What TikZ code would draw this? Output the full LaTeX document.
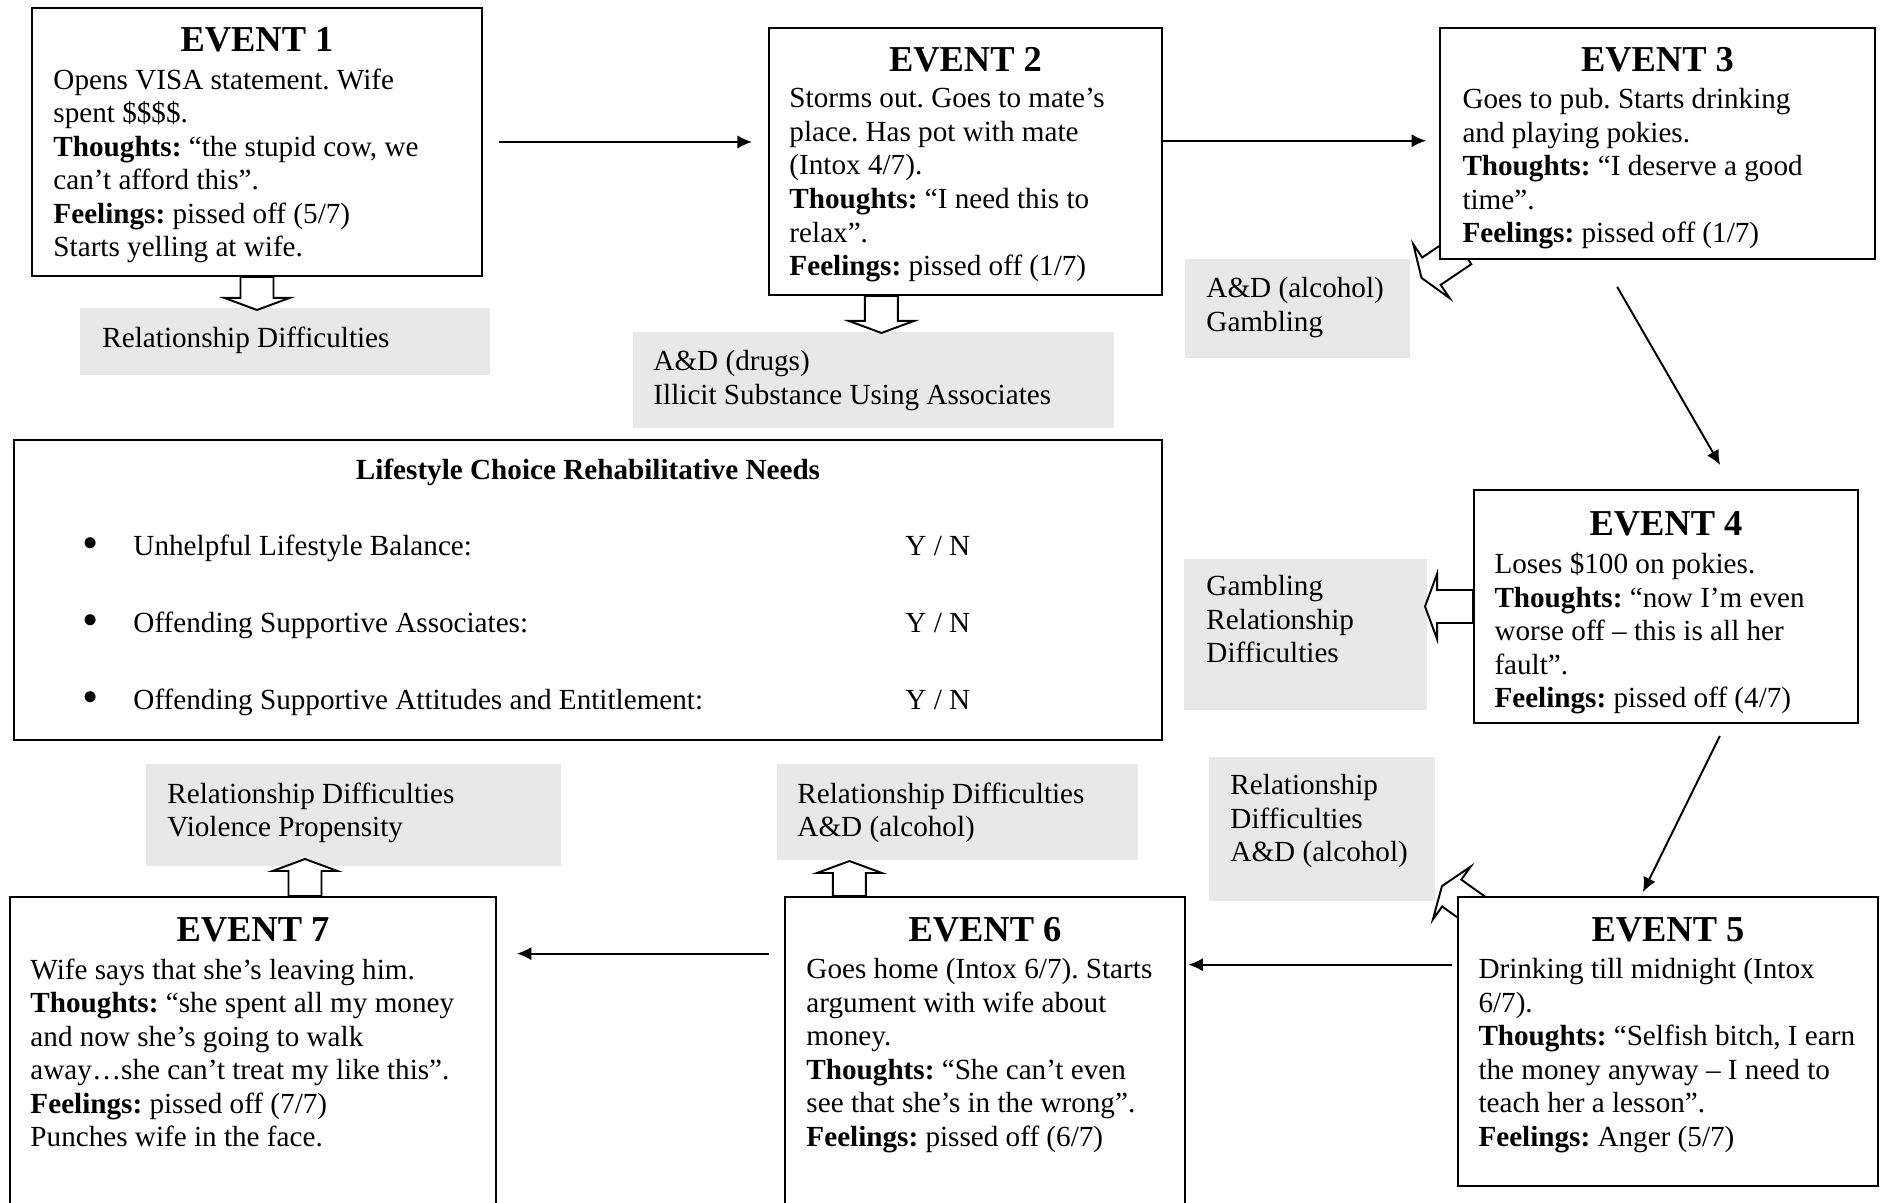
\documentclass[tikz,border=0pt]{standalone}
\usepackage{fontspec}
\setmainfont{Liberation Serif}
\frenchspacing
\usetikzlibrary{arrows.meta,fit,backgrounds}
\definecolor{shade}{gray}{0.91}
\def\BA#1#2#3{\draw[bigarrow,shift={#1},rotate=#2] (0,-16.5) -- (#3-12,-16.5) -- (#3-12,-32.5) -- (#3,0) -- (#3-12,32.5) -- (#3-12,16.5) -- (0,16.5) -- cycle;}
\begin{document}
\begin{tikzpicture}[x=0.4115pt,y=-0.4115pt,
  evbox/.style={draw,line width=0.8pt,fill=white,inner sep=0pt},
  evtitle/.style={font=\fontsize{15}{18}\selectfont\bfseries,inner sep=0pt},
  evtext/.style={font=\fontsize{12}{13.8}\selectfont,align=left,inner sep=0pt,anchor=north west},
  needbox/.style={fill=shade,inner sep=0pt},
  flow/.style={-{Latex[length=6pt,width=5.5pt]},line width=0.8pt},
  bigarrow/.style={draw,fill=white,line width=0.8pt}]
\useasboundingbox (0,0) rectangle (1880,1203);
% the seven events
\node[evbox,fit={(32,8) (482,276)}] (ev1) {};
\node[evtitle] (t1) at (257,40) {EVENT 1};
\node[evtext] (b1) at (53,68) {Opens VISA statement. Wife\\spent \$\$\$\$.\\\textbf{Thoughts:} “the stupid cow, we\\can’t afford this”.\\\textbf{Feelings:} pissed off (5/7)\\Starts yelling at wife.};
\node[evbox,fit={(769,28) (1162,295)}] (ev2) {};
\node[evtitle] (t2) at (965.5,60) {EVENT 2};
\node[evtext] (b2) at (789,88) {Storms out. Goes to mate’s\\place. Has pot with mate\\(Intox 4/7).\\\textbf{Thoughts:} “I need this to\\relax”.\\\textbf{Feelings:} pissed off (1/7)};
\node[evbox,fit={(1440,28) (1875,259)}] (ev3) {};
\node[evtitle] (t3) at (1657.5,60) {EVENT 3};
\node[evtext] (b3) at (1462,88) {Goes to pub. Starts drinking\\and playing pokies.\\\textbf{Thoughts:} “I deserve a good\\time”.\\\textbf{Feelings:} pissed off (1/7)};
\node[evbox,fit={(1474,490) (1858,723)}] (ev4) {};
\node[evtitle] (t4) at (1666,524) {EVENT 4};
\node[evtext] (b4) at (1494,552) {Loses \$100 on pokies.\\\textbf{Thoughts:} “now I’m even\\worse off – this is all her\\fault”.\\\textbf{Feelings:} pissed off (4/7)};
\node[evbox,fit={(1458,897) (1878,1186)}] (ev5) {};
\node[evtitle] (t5) at (1668,930) {EVENT 5};
\node[evtext] (b5) at (1478,958) {Drinking till midnight (Intox\\6/7).\\\textbf{Thoughts:} “Selfish bitch, I earn\\the money anyway – I need to\\teach her a lesson”.\\\textbf{Feelings:} Anger (5/7)};
\node[evbox,fit={(785,897) (1185,1215)}] (ev6) {};
\node[evtitle] (t6) at (985,930) {EVENT 6};
\node[evtext] (b6) at (806,958) {Goes home (Intox 6/7). Starts\\argument with wife about\\money.\\\textbf{Thoughts:} “She can’t even\\see that she’s in the wrong”.\\\textbf{Feelings:} pissed off (6/7)};
\node[evbox,fit={(10,897) (496,1215)}] (ev7) {};
\node[evtitle] (t7) at (253,930) {EVENT 7};
\node[evtext] (b7) at (30,958) {Wife says that she’s leaving him.\\\textbf{Thoughts:} “she spent all my money\\and now she’s going to walk\\away…she can’t treat my like this”.\\\textbf{Feelings:} pissed off (7/7)\\Punches wife in the face.};
% needs in the middle
\node[draw,line width=0.8pt,inner sep=0pt,fit={(14,440) (1162,740)}] (life) {};
\node[evtext,font=\fontsize{12}{13.8}\selectfont\bfseries,anchor=base] (lifet) at (588,480) {Lifestyle Choice Rehabilitative Needs};
\foreach \y/\need [count=\i] in {556/Unhelpful Lifestyle Balance:,632.6/Offending Supportive Associates:,709.2/Offending Supportive Attitudes and Entitlement:} {
  \node[evtext,font=\fontsize{19}{19}\selectfont,anchor=base] (dot\i) at (91,\y+3) {\textbullet};
  \node[evtext,anchor=base west] (need\i) at (133,\y) {\need};
  \node[evtext,anchor=base west] (yn\i) at (905,\y) {Y / N};
}
% grey boxes and block arrows
\begin{pgfonlayer}{background}
\node[needbox,fit={(80,308) (490,375)}] (g1) {};
\node[needbox,fit={(633,332) (1114,428)}] (g2) {};
\node[needbox,fit={(1185,259) (1410,358)}] (g3) {};
\node[needbox,fit={(1184,559) (1427,710)}] (g4) {};
\node[needbox,fit={(1209,757) (1435,901)}] (g5) {};
\node[needbox,fit={(777,764) (1138,860)}] (g6) {};
\node[needbox,fit={(146,764) (561,866)}] (g7) {};
\BA{(ev1.south)}{-90}{33}
\BA{([xshift=-34.6pt]ev2.south)}{-90}{37}
\BA{([xshift=9.5pt,yshift=3.9pt]ev3.south west)}{214}{49}
\BA{(ev4.west)}{180}{48}
\BA{([xshift=8.2pt,yshift=-6.2pt]ev5.north west)}{144.5}{43}
\BA{([xshift=-55.8pt]ev6.north)}{90}{35}
\BA{([xshift=21.4pt]ev7.north)}{90}{37}
\end{pgfonlayer}
\node[evtext] (n1) at (102,326) {Relationship Difficulties};
\node[evtext] (n2) at (653,350) {A\&D (drugs)\\Illicit Substance Using Associates};
\node[evtext] (n3) at (1206,277) {A\&D (alcohol)\\Gambling};
\node[evtext] (n4) at (1206,575) {Gambling\\Relationship\\Difficulties};
\node[evtext] (n5) at (1230,774) {Relationship\\Difficulties\\A\&D (alcohol)};
\node[evtext] (n6) at (797,782) {Relationship Difficulties\\A\&D (alcohol)};
\node[evtext] (n7) at (167,782) {Relationship Difficulties\\Violence Propensity};
% chain of events
\draw[flow,shorten <=6.6pt,shorten >=6.6pt] (ev1.east) -- (ev1.east -| ev2.west);
\draw[flow,shorten >=5.3pt] (ev2.6) -- (ev2.6 -| ev3.west);
\draw[flow,shorten <=12.8pt,shorten >=11.4pt] ([xshift=-23pt]ev3.south) -- ([xshift=28pt]ev4.north);
\draw[flow,shorten <=5.5pt,shorten >=1.8pt] ([xshift=24.6pt]ev4.south) -- ([xshift=-11.1pt]ev5.north);
\draw[flow,shorten <=2pt,shorten >=1pt] (ev5.160) -- (ev5.160 -| ev6.east);
\draw[flow,shorten <=6.2pt,shorten >=8.2pt] (ev6.153) -- (ev6.153 -| ev7.east);
\end{tikzpicture}
\end{document}
